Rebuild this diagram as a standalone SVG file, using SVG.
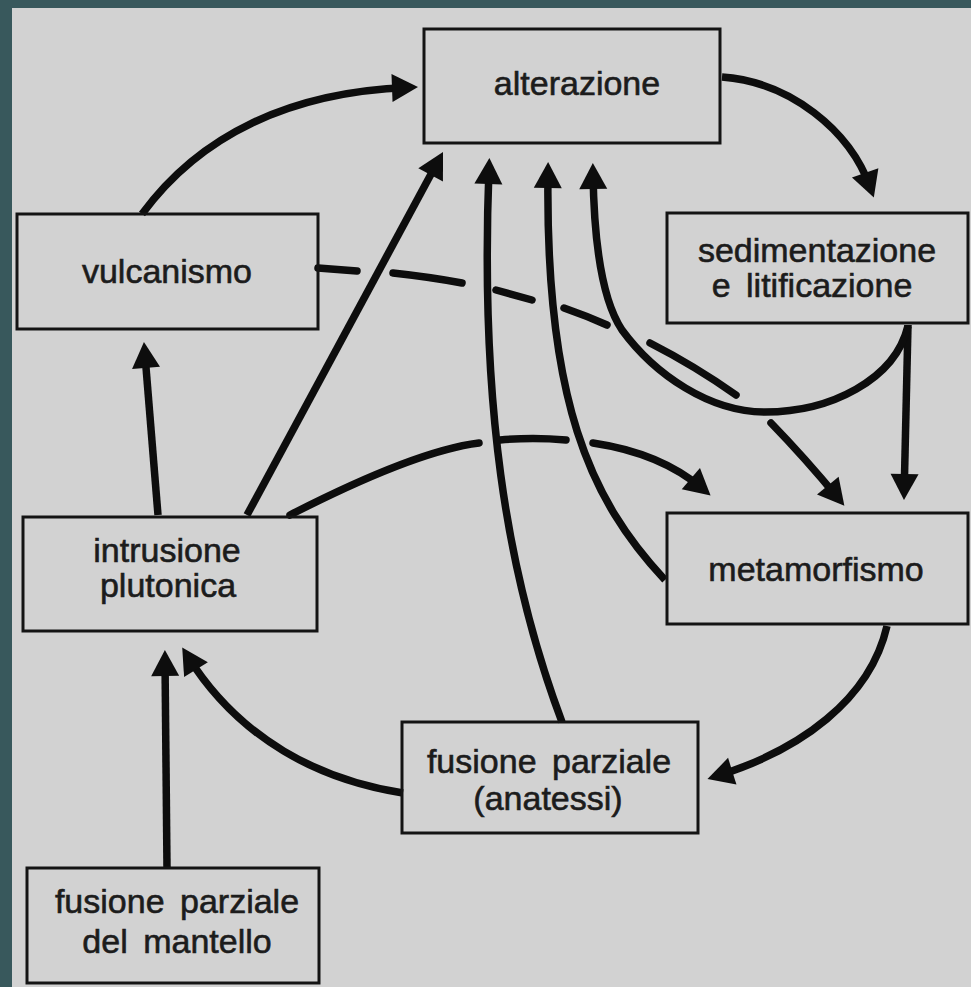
<svg xmlns="http://www.w3.org/2000/svg" width="971" height="987" viewBox="0 0 971 987">
<defs>
<style>
.box{fill:none;stroke:#141414;stroke-width:3}
.t{font-family:"Liberation Sans",Arial,sans-serif;font-size:34px;fill:#1c1c1c;stroke:#1c1c1c;stroke-width:0.6;text-anchor:middle;word-spacing:6px}
.c{fill:none;stroke:#0d0d0d;stroke-width:7.5;stroke-linecap:butt}
.d{fill:none;stroke:#0d0d0d;stroke-width:7.5;stroke-linecap:round}
.a{marker-end:url(#ah)}
</style>
<marker id="ah" markerUnits="userSpaceOnUse" markerWidth="30" markerHeight="32" viewBox="-4 -16 30 32" refX="14" refY="0" orient="auto">
<path d="M-2,-14 L24,0 L-2,14 z" fill="#0d0d0d"/>
</marker>
</defs>
<rect x="0" y="0" width="971" height="987" fill="#38585c"/>
<rect x="12" y="8" width="959" height="979" fill="#d2d2d2"/>

<g id="connectors">
<path id="vulc-alter" class="c a" d="M142,214 C200,135 290,92 408,87.5"/>
<path id="alter-sed" class="c a" d="M722,77 C790,82 850,130 870.5,188"/>
<path id="sed-met" class="c a" d="M908,325 L904.2,490"/>
<path id="sed-alter" class="c a" d="M908,326 C895,380 830,412 765,412 C710,412 655,375 622,330 C602,300 594,240 593,173"/>
<path id="vulc-met" class="d a" d="M318,268 L357,271 M393,273 Q430,277 462,283 M496,290 L532,300 M564,308 Q587,316 607,325 M650,343 Q695,366 736,395 M771,423 Q805,458 838,498"/>
<path id="intr-met" class="d a" d="M290,515 Q415,451 479,443 M500,440 Q533,437 566,440 M593,443 C640,450 675,465 703,489"/>
<path id="intr-vulc" class="c a" d="M158,515 L144.75,352"/>
<path id="intr-alter" class="c a" d="M247,515 L438.25,160.8"/>
<path id="anat-alter" class="c a" d="M562,722 C505,570 480,400 489,168"/>
<path id="met-alter" class="c a" d="M665,580 C590,500 545,400 548,172"/>
<path id="met-anat" class="c a" d="M887,626 C870,700 800,750 717,776"/>
<path id="anat-intr" class="c a" d="M403,793 C320,780 240,740 187.5,656"/>
<path id="mant-intr" class="c a" d="M167,868 L165,660"/>
</g>

<g id="alterazione">
<rect class="box" x="424" y="29" width="296" height="114"/>
<text class="t" x="577" y="95">alterazione</text>
</g>
<g id="sedimentazione">
<rect class="box" x="667" y="213" width="301" height="110"/>
<text class="t" x="817" y="262">sedimentazione</text>
<text class="t" x="812" y="297">e litificazione</text>
</g>
<g id="vulcanismo">
<rect class="box" x="17" y="214" width="301" height="115"/>
<text class="t" x="167" y="283">vulcanismo</text>
</g>
<g id="intrusione">
<rect class="box" x="23" y="517" width="294" height="114"/>
<text class="t" x="167" y="562">intrusione</text>
<text class="t" x="168" y="597">plutonica</text>
</g>
<g id="metamorfismo">
<rect class="box" x="667" y="513" width="301" height="111"/>
<text class="t" x="816" y="581">metamorfismo</text>
</g>
<g id="anatessi">
<rect class="box" x="402" y="722" width="296" height="111"/>
<text class="t" x="549" y="773">fusione parziale</text>
<text class="t" x="548" y="810">(anatessi)</text>
</g>
<g id="mantello">
<rect class="box" x="27" y="868" width="292" height="115"/>
<text class="t" x="177" y="913">fusione parziale</text>
<text class="t" x="177" y="953">del mantello</text>
</g>
</svg>
